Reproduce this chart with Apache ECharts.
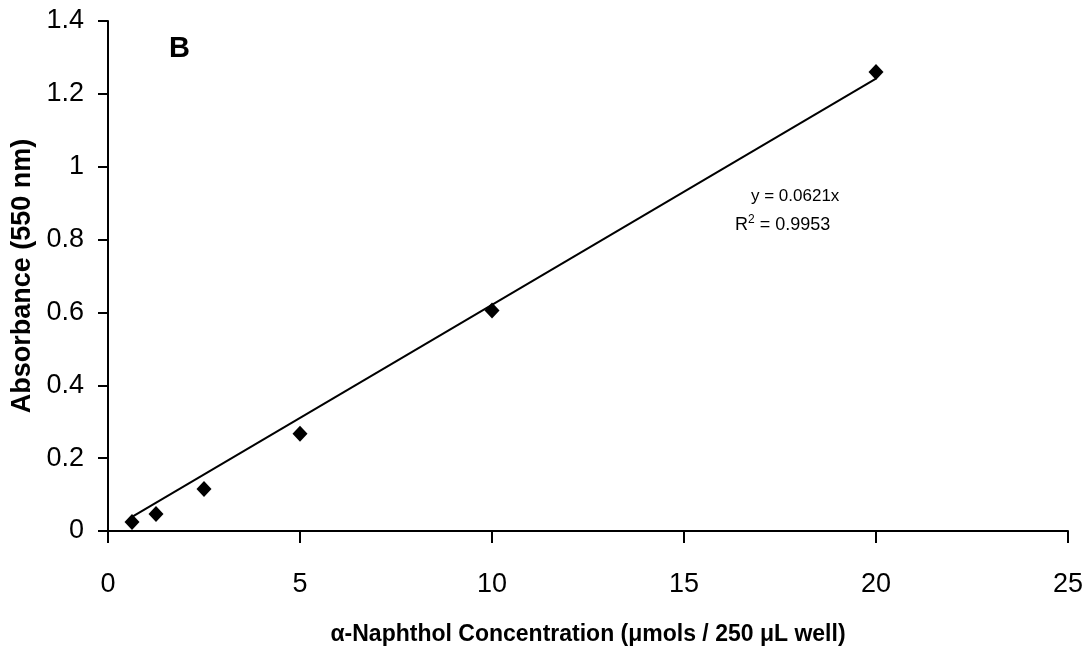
<!DOCTYPE html>
<html>
<head>
<meta charset="utf-8">
<title>Absorbance vs α-Naphthol</title>
<script src="https://cdn.jsdelivr.net/npm/echarts@6/dist/echarts.min.js"></script>
<style>
  html, body { margin: 0; padding: 0; background: #fff; }
  #chart { width: 1090px; height: 652px; }
</style>
</head>
<body>
<div id="chart"></div>
<script>
// ==============================
// data
// ==============================
const concentration = [0.625, 1.25, 2.5, 5, 10, 20];
const absorbance = [0.025, 0.047, 0.115, 0.267, 0.605, 1.26];
const slope = 0.0621;
const rSquared = '0.9953';

const xTicks = [0, 5, 10, 15, 20, 25];
const yTicks = [0, 0.2, 0.4, 0.6, 0.8, 1, 1.2, 1.4];

const font = '"Liberation Sans", Arial, sans-serif';

// scatter points
const points = concentration.map((x, i) => [x, absorbance[i]]);

// fitted line through origin, drawn over the data range
const xMin = Math.min(...concentration);
const xMax = Math.max(...concentration);
const fitLine = [[xMin, slope * xMin], [xMax, slope * xMax]];

const chart = echarts.init(document.getElementById('chart'));

chart.setOption({
  animation: false,
  backgroundColor: '#fff',
  grid: { left: 108, right: 22, top: 21, bottom: 121, outerBoundsMode: 'none' },
  xAxis: {
    type: 'value',
    min: xTicks[0],
    max: xTicks[xTicks.length - 1],
    interval: 5,
    name: 'α-Naphthol Concentration (μmols / 250 μL well)',
    nameLocation: 'middle',
    nameGap: 92,
    nameTextStyle: { color: '#000', fontFamily: font, fontWeight: 'bold', fontSize: 23 },
    axisLine: { lineStyle: { color: '#000', width: 2 } },
    axisTick: { show: true, length: 12, lineStyle: { color: '#000', width: 2 } },
    splitLine: { show: false },
    axisLabel: { color: '#000', fontFamily: font, fontSize: 27, margin: 40 }
  },
  yAxis: {
    type: 'value',
    min: yTicks[0],
    max: yTicks[yTicks.length - 1],
    interval: 0.2,
    name: 'Absorbance (550 nm)',
    nameLocation: 'middle',
    nameGap: 72,
    nameTextStyle: { color: '#000', fontFamily: font, fontWeight: 'bold', fontSize: 27 },
    axisLine: { show: true, lineStyle: { color: '#000', width: 2 } },
    axisTick: { show: true, length: 10, lineStyle: { color: '#000', width: 2 } },
    splitLine: { show: false },
    axisLabel: {
      color: '#000',
      fontFamily: font,
      fontSize: 27,
      margin: 24,
      formatter: v => String(Math.round(v * 10) / 10)
    }
  },
  series: [
    {
      type: 'line',
      data: fitLine,
      showSymbol: false,
      lineStyle: { color: '#000', width: 2 },
      silent: true,
      z: 2
    },
    {
      type: 'scatter',
      data: points,
      symbol: 'diamond',
      symbolSize: [15, 16],
      itemStyle: { color: '#000', opacity: 1 },
      z: 3
    }
  ],
  graphic: [
    {
      type: 'text',
      left: 169,
      top: 34,
      style: { text: 'B', fill: '#000', font: 'bold 29px ' + font }
    },
    {
      type: 'text',
      left: 751,
      top: 188,
      style: { text: 'y = 0.0621x', fill: '#000', font: '17px ' + font }
    },
    {
      type: 'text',
      left: 735,
      top: 214,
      style: {
        text: '{b|R}{s|2}{b| = ' + rSquared + '}',
        rich: {
          b: { fontFamily: font, fontSize: 18, fill: '#000', verticalAlign: 'bottom' },
          s: { fontFamily: font, fontSize: 12, fill: '#000', verticalAlign: 'top', padding: [0, 0, 8, 0] }
        }
      }
    }
  ]
});

window.addEventListener('resize', () => chart && chart.resize());
</script>
</body>
</html>
